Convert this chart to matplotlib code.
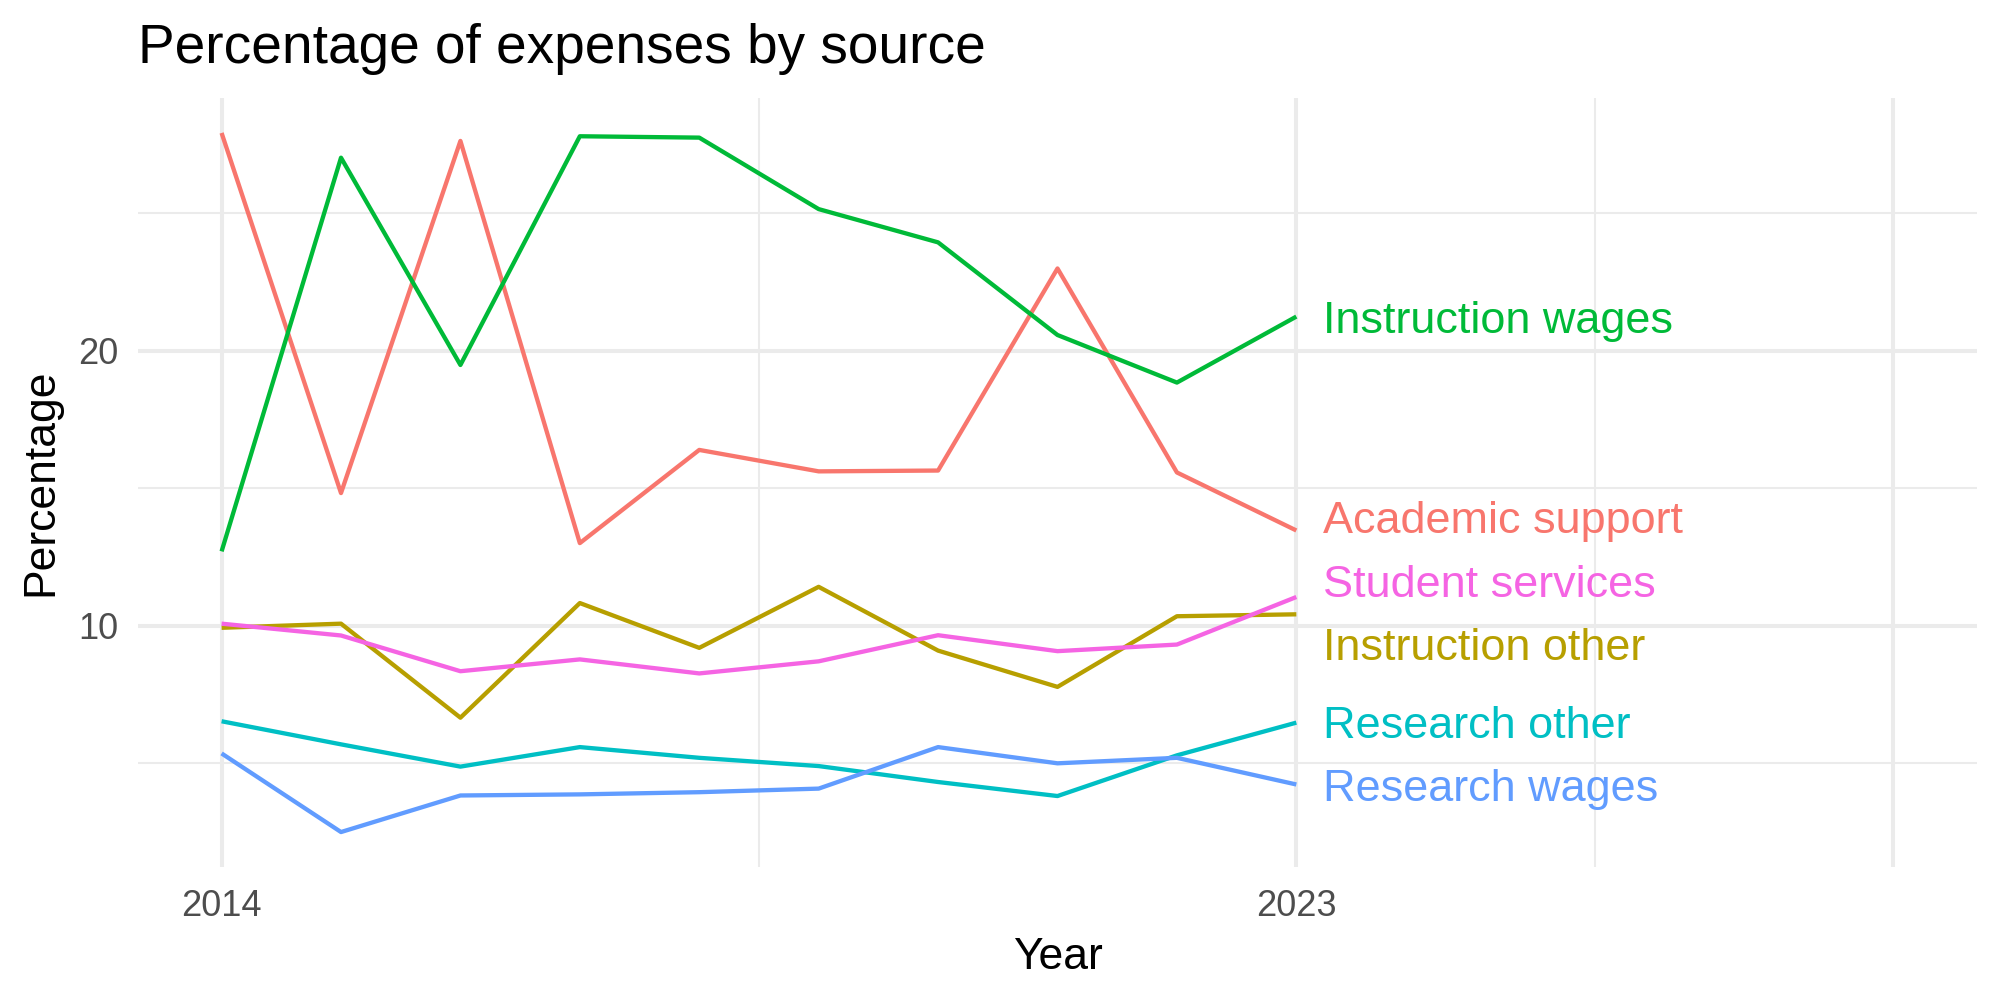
import matplotlib
matplotlib.use("Agg")
import matplotlib.pyplot as plt
from matplotlib.ticker import FixedLocator, NullFormatter

plt.rcParams['font.family'] = ['Liberation Sans', 'DejaVu Sans']

# Data
years = list(range(2014, 2024))
academic_support = [27.92, 14.82, 27.63, 13.00, 16.39, 15.61, 15.64, 22.99, 15.57, 13.46]
instruction_other = [9.92, 10.07, 6.65, 10.82, 9.19, 11.41, 9.09, 7.77, 10.34, 10.41]
instruction_wages = [12.70, 27.02, 19.48, 27.80, 27.75, 25.15, 23.94, 20.57, 18.84, 21.24]
research_other = [6.52, 5.68, 4.87, 5.58, 5.19, 4.89, 4.31, 3.80, 5.28, 6.47]
research_wages = [5.35, 2.49, 3.82, 3.86, 3.94, 4.07, 5.58, 4.99, 5.19, 4.22]
student_services = [10.07, 9.64, 8.34, 8.77, 8.26, 8.70, 9.65, 9.07, 9.31, 11.04]

series = {
    'Academic support': academic_support,
    'Instruction other': instruction_other,
    'Instruction wages': instruction_wages,
    'Research other': research_other,
    'Research wages': research_wages,
    'Student services': student_services,
}
colors = ['#F8766D', '#B79F00', '#00BA38', '#00BFC4', '#619CFF', '#F564E3']

x_major = [2014, 2023, 2028]
x_labels = ['2014', '2023', '']
x_minor = [2018.5, 2025.5]
y_major = [10, 20]
y_minor = [5, 15, 25]

fig = plt.figure(figsize=(10, 5), dpi=200)
ax = fig.add_axes([0.069, 0.133, 0.9195, 0.769])

for (name, vals), c in zip(series.items(), colors):
    ax.plot(years, vals, color=c, linewidth=1.55, solid_capstyle='butt', zorder=3)

# simple label repel at the line ends
names = list(series.keys())
ends = [series[n][-1] for n in names]
lab_y = dict(zip(names, ends))
min_gap = 2.3
for _ in range(500):
    order = sorted(names, key=lambda n: lab_y[n])
    for a, b in zip(order[:-1], order[1:]):
        gap = lab_y[b] - lab_y[a]
        if gap < min_gap:
            d = (min_gap - gap) / 2
            lab_y[a] -= d
            lab_y[b] += d

for n, c in zip(names, colors):
    ax.annotate(n, xy=(years[-1], lab_y[n]), xytext=(9.5, -5.8),
                textcoords='offset points', ha='left', va='baseline',
                color=c, fontsize=16.2, zorder=4)

ax.set_xlim(2014 - 0.05 * 14, 2028 + 0.05 * 14)
ax.margins(y=0.05)

ax.xaxis.set_major_locator(FixedLocator(x_major))
ax.set_xticklabels(x_labels)
ax.xaxis.set_minor_locator(FixedLocator(x_minor))
ax.yaxis.set_major_locator(FixedLocator(y_major))
ax.yaxis.set_minor_locator(FixedLocator(y_minor))
ax.xaxis.set_minor_formatter(NullFormatter())
ax.yaxis.set_minor_formatter(NullFormatter())

ax.grid(which='major', color='#EBEBEB', linewidth=1.45, zorder=0)
ax.grid(which='minor', color='#EBEBEB', linewidth=0.75, zorder=0)
ax.set_axisbelow(True)
for s in ax.spines.values():
    s.set_visible(False)
ax.tick_params(which='both', length=0, labelsize=13, labelcolor='#4D4D4D')
ax.tick_params(axis='x', pad=8)
ax.tick_params(axis='y', pad=7)

ax.set_xlabel('Year', fontsize=16, labelpad=4.5)
ax.set_ylabel('Percentage', fontsize=16, labelpad=6)
ax.set_title('Percentage of expenses by source', loc='left', fontsize=19.8, pad=12.5)

fig.savefig('out.png', dpi=200)
